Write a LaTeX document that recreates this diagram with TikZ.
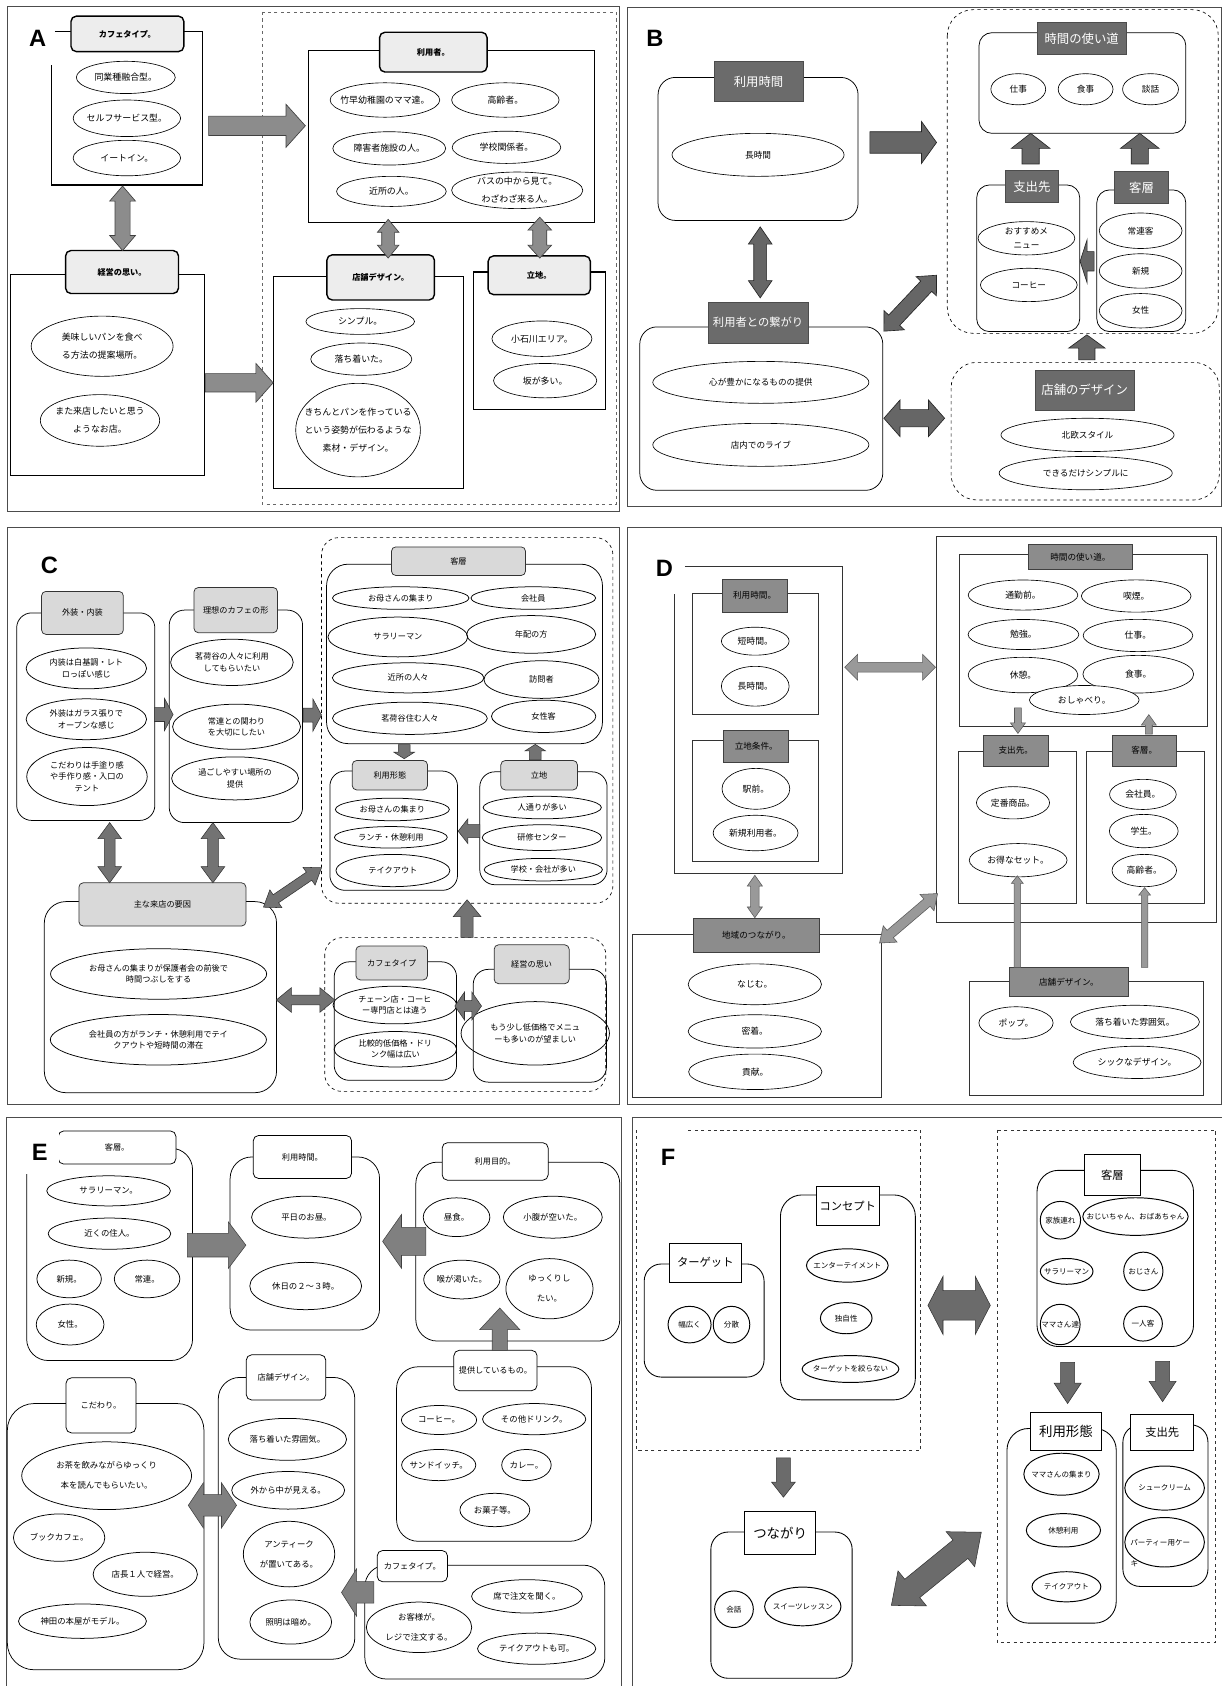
\documentclass[tikz,border=0pt]{standalone}
\usepackage{fontspec}
\setmainfont{Noto Sans CJK JP}
\newfontfamily\lat{Liberation Sans}
\usetikzlibrary{calc,shapes.geometric}
\newcommand\tb[7]{\node[#1, minimum width={(#5)-(#3)}, minimum height={(#6)-(#4)}] (#2) at ({((#3)+(#5))/2},{((#4)+(#6))/2}) {#7};}
\newcommand\ov[6]{\node[ovl, minimum width=#4pt, minimum height=#5pt] (#1) at (#2,#3) {};\node[ovt] (#1t) at (#1.center) {#6};}
\newcommand\sar[6]{\coordinate (bs) at #2; \coordinate (be) at #3;
 \coordinate (bm) at ($(be)!#6pt!(bs)$);
 \draw[#1] ($(bs)!#4pt!90:(be)$) -- ($(bm)!#4pt!-90:(bs)$) -- ($(bm)!#5pt!-90:(bs)$) -- (be) -- ($(bm)!#5pt!90:(bs)$) -- ($(bm)!#4pt!90:(bs)$) -- ($(bs)!#4pt!-90:(be)$) -- cycle;}
\newcommand\dar[6]{\coordinate (bs) at #2; \coordinate (be) at #3;
 \coordinate (bm) at ($(be)!#6pt!(bs)$); \coordinate (bn) at ($(bs)!#6pt!(be)$);
 \draw[#1] (bs) -- ($(bn)!#5pt!90:(be)$) -- ($(bn)!#4pt!90:(be)$) -- ($(bm)!#4pt!-90:(bs)$) -- ($(bm)!#5pt!-90:(bs)$) -- (be) -- ($(bm)!#5pt!90:(bs)$) -- ($(bm)!#4pt!90:(bs)$) -- ($(bn)!#4pt!-90:(be)$) -- ($(bn)!#5pt!-90:(be)$) -- cycle;}
\begin{document}
\begin{tikzpicture}[x=1pt,y=-1pt,
 frm/.style={draw=black!70, line width=1pt},
 lab/.style={font=\lat\bfseries\fontsize{22}{22}\selectfont, inner sep=1pt}]
\useasboundingbox (0,0) rectangle (1137,1568);
\fill[white] (0,0) rectangle (1137,1568);

%================ A ================
\begin{scope}[
 ovl/.style={draw, ellipse, inner sep=0pt, line width=.6pt},
 ovt/.style={font=\fontsize{8.3}{16.8}\selectfont, align=center, inner sep=0pt},
 ttl/.style={draw, line width=1.3pt, rounded corners=5pt, fill=black!7, font=\bfseries\fontsize{7.6}{9}\selectfont, inner sep=1pt},
 cnt/.style={draw, line width=1.1pt},
 arw/.style={fill=black!45, draw=black!75, line width=.6pt}]
\draw[frm] (7,6) rectangle (576,476);
\draw[dashed, black!60, line width=.6pt] (244,11) rectangle (573,469);
\draw[cnt] (51,29) -- (188,29) -- (188,172) -- (48,172) -- (48,60);
\draw[cnt] (10,255) rectangle (190,442);
\draw[cnt] (287,47) rectangle (553,207);
\draw[cnt] (254,257) rectangle (431,454);
\draw[cnt] (440,253) rectangle (563,381);
\node[lab] (labA) at (35,36) {A};
\tb{ttl}{aCafe}{66}{15}{171}{48}{カフェタイプ。}
\tb{ttl}{aKei}{61}{233}{166}{273}{経営の思い。}
\tb{ttl}{aUser}{353}{30}{453}{67}{利用者。}
\tb{ttl}{aDes}{304}{237}{404}{279}{店舗デザイン。}
\tb{ttl}{aLoc}{454}{238}{549}{274}{立地。}
\ov{aE1}{117}{72}{92}{30}{同業種融合型。}
\ov{aE2}{118}{110}{100}{34}{セルフサービス型。}
\ov{aE3}{118}{147}{100}{33}{イートイン。}
\ov{aE4}{95}{322}{132}{56}{美味しいパンを食べ\\る方法の提案場所。}
\ov{aE5}{93}{391}{111}{48}{また来店したいと思う\\ようなお店。}
\ov{aU1}{358}{93}{102}{32}{竹早幼稚園のママ達。}
\ov{aU2}{470}{93}{100}{32}{高齢者。}
\ov{aU3}{362}{138}{105}{31}{障害者施設の人。}
\ov{aU4}{471}{137}{101}{30}{学校関係者。}
\ov{aU5}{364}{178}{102}{28}{近所の人。}
\ov{aU6}{481}{177}{122}{34}{バスの中から見て。\\わざわざ来る人。}
\ov{aD1}{335}{299}{101}{24}{シンプル。}
\ov{aD2}{336}{334}{94}{30}{落ち着いた。}
\ov{aD3}{333}{400}{116}{87}{きちんとパンを作っている\\という姿勢が伝わるような\\素材・デザイン。}
\ov{aL1}{504}{315}{93}{33}{小石川エリア。}
\ov{aL2}{507}{354}{96}{32}{坂が多い。}
\dar{arw}{(114,173)}{(114,233)}{7}{12}{14}
\sar{arw}{(194,117)}{(284,117)}{9}{20}{18}
\sar{arw}{(191,356)}{(254,356)}{8.5}{18}{16}
\dar{arw}{(361,204)}{(361,240)}{6}{10}{12}
\dar{arw}{(502,202)}{(502,240)}{6.5}{11}{12}
\end{scope}

%================ B ================
\begin{scope}[
 ovl/.style={draw, ellipse, inner sep=0pt, line width=.6pt},
 ovt/.style={font=\fontsize{8}{13}\selectfont, align=center, inner sep=0pt},
 ttl/.style={draw=black!70, fill=black!58, text=white, font=\fontsize{11.5}{13}\selectfont, inner sep=1pt},
 cnt/.style={draw, line width=.7pt, rounded corners=16pt},
 dsh/.style={draw, dashed, line width=.6pt, rounded corners=24pt},
 arw/.style={fill=black!60, draw=black!85, line width=.6pt}]
\draw[frm] (584,7) rectangle (1136,471);
\node[lab] (labB) at (609,36) {B};
\draw[dsh] (881,9) rectangle (1133,310);
\draw[dsh] (884.5,337) rectangle (1134,465);
\draw[cnt] (612,72) rectangle (798,205);
\draw[cnt] (595,304) rectangle (821,456);
\draw[cnt, rounded corners=12pt] (910.5,30.4) rectangle (1102.8,124);
\draw[cnt, rounded corners=12pt] (908.3,172) rectangle (1004.2,308.4);
\draw[cnt, rounded corners=12pt] (1020,176.6) rectangle (1102.8,308.4);
\tb{ttl}{bTime}{664}{57}{747}{94.5}{利用時間}
\tb{ttl,font=\fontsize{10.5}{12}\selectfont}{bConn}{658.5}{281}{751.5}{319}{利用者との繋がり}
\tb{ttl}{bUse}{965}{21}{1047}{50.5}{時間の使い道}
\tb{ttl}{bSpend}{935.3}{158.7}{983.9}{188.4}{支出先}
\tb{ttl}{bCust}{1036.4}{159.6}{1086.8}{189}{客層}
\tb{ttl}{bDes}{962.6}{344}{1054.9}{381.2}{店舗のデザイン}
\ov{bE1}{705}{144}{160}{40}{長時間}
\ov{bE2}{707.6}{355.6}{201}{39}{心が豊かになるものの提供}
\ov{bE3}{707.6}{413.7}{201}{40}{店内でのライブ}
\ov{bE4}{947}{83}{51}{29}{仕事}
\ov{bE5}{1009.6}{83}{51}{29}{食事}
\ov{bE6}{1070}{83}{52}{29}{談話}
\ov{bE7}{954.6}{221.6}{90}{31}{おすすめメ\\ニュー}
\ov{bE8}{956.8}{265}{90}{31}{コーヒー}
\ov{bE9}{1060.8}{214.6}{77}{33}{常連客}
\ov{bE10}{1060.8}{252}{77}{32}{新規}
\ov{bE11}{1060.8}{289}{77}{32}{女性}
\ov{bE12}{1011.4}{404.5}{161}{31}{北欧スタイル}
\ov{bE13}{1009.7}{440}{161}{31}{できるだけシンプルに}
\dar{arw}{(707,211)}{(707,277)}{6}{11}{16}
\sar{arw}{(809,132.5)}{(871,132.5)}{10}{19.5}{14}
\dar{arw}{(822,308)}{(871,256)}{7}{13}{14}
\dar{arw}{(822,389)}{(878.5,389)}{8}{17}{15}
\sar{arw}{(958.5,152.5)}{(958.5,124)}{8}{18}{14}
\sar{arw}{(1060,152.5)}{(1060,124)}{8}{18}{14}
\sar{arw}{(1017.5,243)}{(1004.5,243)}{9}{20}{6.5}
\sar{arw}{(1010.8,334.7)}{(1010.8,311.4)}{7.5}{17}{12.4}
\end{scope}

%================ C ================
\begin{scope}[
 ovl/.style={draw, ellipse, inner sep=0pt, line width=.7pt},
 ovt/.style={font=\fontsize{7.6}{10.5}\selectfont, align=center, inner sep=0pt},
 ttl/.style={draw=black!80, fill=black!15, rounded corners=4pt, line width=.7pt, font=\fontsize{7.6}{9}\selectfont, inner sep=1pt},
 cnt/.style={draw, line width=.7pt, rounded corners=14pt},
 dsh/.style={draw, dashed, line width=.6pt, rounded corners=16pt},
 arw/.style={fill=black!55, draw=black!80, line width=.5pt}]
\draw[frm] (7,491) rectangle (576,1027);
\draw[dsh] (299,500) rectangle (570,840);
\draw[dsh] (302,872) rectangle (563.4,1015);
\draw[cnt] (15.5,570) rectangle (144,763);
\draw[cnt] (157.4,567.4) rectangle (281.4,765);
\draw[cnt, rounded corners=20pt] (41.2,838.5) rectangle (257.2,1016.2);
\draw[cnt, rounded corners=20pt] (303.7,524.7) rectangle (560.3,691.6);
\draw[cnt] (306.8,717.1) rectangle (425.5,828);
\draw[cnt] (446.2,717.8) rectangle (564.6,822.8);
\draw[cnt] (310.8,894.5) rectangle (424.6,1004.7);
\draw[cnt] (440.1,901.5) rectangle (564,1006.4);
\tb{ttl}{cOut}{38.7}{550}{114.7}{590}{外装・内装}
\tb{ttl}{cIdeal}{180.4}{546.4}{258.1}{588.4}{理想のカフェの形}
\tb{ttl}{cMain}{73.4}{821}{228.7}{861.2}{主な来店の要因}
\tb{ttl}{cCust}{364.1}{508.6}{488.7}{535.2}{客層}
\tb{ttl}{cUse}{327.6}{707.3}{397.6}{734.6}{利用形態}
\tb{ttl}{cLoc}{465.8}{707.3}{537}{734.6}{立地}
\tb{ttl}{cType}{331}{879.8}{397.6}{911.3}{カフェタイプ}
\tb{ttl}{cKei}{459.6}{878.7}{529.3}{914.8}{経営の思い}
\node[lab, fill=white, minimum width=32pt, minimum height=46pt] (labC) at (46,526) {C};
\ov{cO1}{80.3}{621.6}{112}{38}{内装は白基調・レト\\ロっぽい感じ}
\ov{cO2}{80.3}{668.9}{112}{38}{外装はガラス張りで\\オープンな感じ}
\ov{cO3}{80.9}{722.2}{112}{54}{こだわりは手塗り感\\や手作り感・入口の\\テント}
\ov{cI1}{215.7}{616}{114}{43}{茗荷谷の人々に利用\\してもらいたい}
\ov{cI2}{220}{675.9}{119}{42}{常連との関わり\\を大切にしたい}
\ov{cI3}{218.6}{723.9}{118}{40}{過ごしやすい場所の\\提供}
\ov{cM1}{147.5}{905.8}{201}{47}{お母さんの集まりが保護者会の前後で\\時間つぶしをする}
\ov{cM2}{147.3}{967}{201}{47}{会社員の方がランチ・休憩利用でテイ\\クアウトや短時間の滞在}
\ov{cC1}{372.7}{556.2}{127}{21}{お母さんの集まり}
\ov{cC2}{496}{556.2}{116}{21}{会社員}
\ov{cC3}{370}{592.4}{130}{37}{サラリーマン}
\ov{cC4}{494}{590}{120}{35}{年配の方}
\ov{cC5}{379.6}{630.4}{141}{28}{近所の人々}
\ov{cC6}{503.6}{632}{107}{35}{訪問者}
\ov{cC7}{381.2}{668}{144}{30}{茗荷谷住む人々}
\ov{cC8}{505.6}{666.2}{97}{30}{女性客}
\ov{cU1}{364.9}{752.8}{106}{21}{お母さんの集まり}
\ov{cU2}{363.5}{778.7}{105}{20}{ランチ・休憩利用}
\ov{cU3}{365.4}{809.6}{106}{30}{テイクアウト}
\ov{cL1}{504.3}{751}{110}{21}{人通りが多い}
\ov{cL2}{504}{779}{111}{24}{研修センター}
\ov{cL3}{505.3}{808.8}{110}{21}{学校・会社が多い}
\ov{cT1}{367.2}{934.7}{115}{35}{チェーン店・コーヒ\\ー専門店とは違う}
\ov{cT2}{367.7}{975.8}{114}{33}{比較的低価格・ドリ\\ンク幅は広い}
\ov{cK1}{497.8}{961}{138}{59}{もう少し低価格でメニュ\\ーも多いのが望ましい}
\sar{arw}{(143.5,664.5)}{(161,664.5)}{6.5}{15}{8}
\sar{arw}{(282,665)}{(299,665)}{6.5}{15}{8}
\dar{arw}{(102,765)}{(102,821)}{5}{11}{15}
\dar{arw}{(198,765)}{(198,821)}{5}{11}{15}
\dar{arw}{(245,843.7)}{(299,807)}{4.5}{10}{14}
\dar{arw}{(257,930)}{(311.4,930)}{4.5}{11.5}{14}
\sar{arw}{(375.9,692.6)}{(375.9,705.6)}{5.5}{9.5}{6}
\sar{arw}{(497.8,706.6)}{(497.8,692.3)}{5.5}{9.5}{6}
\sar{arw}{(446.2,773)}{(426.1,773)}{6}{11.5}{9}
\sar{arw}{(434.4,871.7)}{(434.4,836.8)}{5.7}{12.9}{15.7}
\dar{arw}{(423,935.6)}{(447.8,935.6)}{5}{13}{9}
\end{scope}

%================ D ================
\begin{scope}[
 ovl/.style={draw, ellipse, inner sep=0pt, line width=.6pt, fill=white},
 ovt/.style={font=\fontsize{8.2}{10}\selectfont, align=center, inner sep=0pt},
 ttl/.style={draw=black!75, fill=black!45, line width=.8pt, font=\fontsize{8}{10}\selectfont, inner sep=1pt},
 cnt/.style={draw=black!80, line width=.7pt},
 arw/.style={fill=black!40, draw=black!65, line width=.5pt}]
\draw[frm] (584,491) rectangle (1136,1027);
\node[lab] (labD) at (618,529) {D};
\draw[cnt] (637,527) -- (783,527) -- (783,812) -- (627.6,812) -- (627.6,552);
\draw[cnt] (644,551.7) rectangle (761.5,664.3);
\draw[cnt] (643.7,688.8) rectangle (760.8,800.7);
\draw[cnt] (588,869) rectangle (819.7,1020.4);
\draw[cnt] (871,499) rectangle (1131,858);
\draw[cnt] (891.9,515.6) rectangle (1122.4,675.1);
\draw[cnt] (891,698.6) rectangle (1001,840.2);
\draw[cnt] (1010.2,698.6) rectangle (1120.3,840.2);
\draw[cnt] (901.8,913) rectangle (1118.7,1018.6);
\tb{ttl}{dTime}{671.6}{538.7}{732}{569.2}{利用時間。}
\tb{ttl}{dLoc}{673.1}{679.3}{733.6}{709.1}{立地条件。}
\tb{ttl}{dReg}{644.6}{854.2}{762.4}{885.7}{地域のつながり。}
\tb{ttl}{dUse}{956}{506.2}{1053.6}{530}{時間の使い道。}
\tb{ttl}{dSpend}{914.8}{683.5}{974.6}{712.6}{支出先。}
\tb{ttl}{dCust}{1034.4}{683.5}{1093.9}{712.6}{客層。}
\tb{ttl}{dDes}{938.4}{899.7}{1049.9}{927}{店舗デザイン。}
\ov{dT1}{702.4}{596.3}{63}{26}{短時間。}
\ov{dT2}{702.4}{638.2}{63}{37}{長時間。}
\ov{dL1}{703}{733.6}{63}{38}{駅前。}
\ov{dL2}{702.7}{774.7}{79}{33}{新規利用者。}
\ov{dR1}{702}{915.4}{124}{38}{なじむ。}
\ov{dR2}{702}{959.2}{124}{31}{密着。}
\ov{dR3}{702.4}{996.8}{124}{33}{貢献。}
\ov{dU1}{951.4}{553.4}{102}{28}{通勤前。}
\ov{dU2}{1056.7}{554.3}{102}{30}{喫煙。}
\ov{dU3}{951.8}{590.1}{103}{28}{勉強。}
\ov{dU4}{1058.3}{591}{102}{30}{仕事。}
\ov{dU5}{951.4}{627.8}{102}{33}{休憩。}
\ov{dU6}{1058.6}{627}{103}{35}{食事。}
\ov{dU7}{1008.4}{651}{102}{27}{おしゃべり。}
\ov{dS1}{942.1}{746.6}{68}{30}{定番商品。}
\ov{dS2}{946.9}{800}{91}{31}{お得なセット。}
\ov{dC1}{1062.9}{738.8}{62}{28}{会社員。}
\ov{dC2}{1063.7}{772.9}{64}{31}{学生。}
\ov{dC3}{1064.2}{809.6}{60}{30}{高齢者。}
\ov{dD1}{944.9}{951.3}{69}{30}{ポップ。}
\ov{dD2}{1055.5}{950.4}{120}{31}{落ち着いた雰囲気。}
\ov{dD3}{1057.5}{988}{119}{30}{シックなデザイン。}
\dar{arw}{(785.6,620.5)}{(870,620.5)}{4.5}{12}{12}
\dar{arw}{(702,814)}{(702,853.5)}{4}{7}{10}
\dar{arw}{(818,877)}{(872,831)}{4.5}{10}{13}
\sar{arw}{(946.7,658.3)}{(946.7,682.1)}{3.2}{7}{9.8}
\sar{arw}{(1068.4,682.8)}{(1068.4,664.6)}{3.2}{7}{9.8}
\sar{arw}{(946.1,899.7)}{(946.1,814.5)}{3}{5.5}{7}
\sar{arw}{(1064.5,899.7)}{(1064.5,825.5)}{3}{5.5}{7}
\end{scope}

%================ E ================
\begin{scope}[
 ovl/.style={draw, ellipse, inner sep=0pt, line width=.7pt},
 ovt/.style={font=\fontsize{7.8}{18.5}\selectfont, align=center, inner sep=0pt},
 ttl/.style={draw, fill=white, rounded corners=5pt, line width=.7pt, font=\fontsize{7.6}{9}\selectfont, inner sep=1pt},
 cnt/.style={draw, line width=.7pt, rounded corners=20pt},
 arw/.style={fill=black!50, draw=black!75, line width=.5pt}]
\draw[frm] (6,1575) -- (6,1039.5) -- (578,1039.5) -- (578,1575);
\draw[cnt] (24.8,1067.9) rectangle (179.1,1265.3);
\draw[cnt] (214,1076) rectangle (353,1237);
\draw[cnt] (386.7,1080.8) rectangle (576.4,1247.2);
\draw[cnt] (368.8,1271.1) rectangle (550.1,1433.4);
\draw[cnt] (339.3,1455.6) rectangle (562.5,1561.5);
\draw[cnt] (203,1281) rectangle (330,1543);
\draw[cnt, rounded corners=25pt] (6.8,1305.3) rectangle (189.7,1552.9);
\tb{ttl}{eCust}{54.2}{1051.8}{163.6}{1082.6}{客層。}
\tb{ttl}{eTime}{235.5}{1056}{327}{1096}{利用時間。}
\tb{ttl}{ePurp}{411.2}{1062.7}{509.8}{1097.6}{利用目的。}
\tb{ttl}{eOffer}{422.1}{1255.8}{499.5}{1293.3}{提供しているもの。}
\tb{ttl}{eType}{350.8}{1442}{416.2}{1471}{カフェタイプ。}
\tb{ttl}{eDes}{229}{1260}{303}{1302}{店舗デザイン。}
\tb{ttl}{eKoda}{61.4}{1281.4}{126.4}{1332.6}{こだわり。}
\node[lab, fill=white, minimum width=36pt, minimum height=40pt] (labE) at (37,1072) {E};
\ov{eC1}{101}{1107.5}{115}{28}{サラリーマン。}
\ov{eC2}{101.8}{1147.3}{114}{29}{近くの住人。}
\ov{eC3}{64.3}{1189.4}{60}{35}{新規。}
\ov{eC4}{136.8}{1189.4}{61}{35}{常連。}
\ov{eC5}{65.2}{1231.8}{63}{38}{女性。}
\ov{eT1}{285}{1132}{102}{39}{平日のお昼。}
\ov{eT2}{284.3}{1196}{104}{44}{休日の２～３時。}
\ov{eP1}{424.6}{1132}{62}{36}{昼食。}
\ov{eP2}{514.1}{1132}{92}{39}{小腹が空いた。}
\ov{eP3}{429.5}{1190}{71}{36}{喉が渇いた。}
\ov{eP4}{511}{1198.5}{81}{56}{ゆっくりし\\たい。}
\ov{eO1}{408.3}{1320.6}{70}{27}{コーヒー。}
\ov{eO2}{496.8}{1319.8}{96}{29}{その他ドリンク。}
\ov{eO3}{408}{1362.5}{69}{29}{サンドイッチ。}
\ov{eO4}{489.6}{1362.5}{46}{29}{カレー。}
\ov{eO5}{460.2}{1404.3}{65}{31}{お菓子等。}
\ov{eY1}{490.1}{1484.6}{103}{31}{席で注文を聞く。}
\ov{eY2}{389.7}{1513.4}{98}{47}{お客様が。\\レジで注文する。}
\ov{eY3}{499.1}{1533.3}{110}{29}{テイクアウトも可。}
\ov{eD1}{267.3}{1338.6}{110}{39}{落ち着いた雰囲気。}
\ov{eD2}{268}{1386}{105}{35}{外から中が見える。}
\ov{eD3}{268.8}{1445.3}{85}{61}{アンティーク\\が置いてある。}
\ov{eD4}{270.4}{1508.5}{76}{41}{照明は暗め。}
\ov{eK1}{99.2}{1372.4}{158}{63}{お茶を飲みながらゆっくり\\本を読んでもらいたい。}
\ov{eK2}{55}{1430}{85}{44}{ブックカフェ。}
\ov{eK3}{135.1}{1464.1}{97}{41}{店長１人で経営。}
\ov{eK4}{76.7}{1507.7}{119}{32}{神田の本屋がモデル。}
\sar{arw}{(174.2,1158)}{(228.7,1158)}{11}{21.7}{16.4}
\sar{arw}{(396,1154.5)}{(355.8,1154.5)}{13}{25}{17.6}
\sar{arw}{(464.8,1255.8)}{(464.8,1216.5)}{7}{18.6}{20}
\sar{arw}{(347.7,1481)}{(317.6,1481)}{10}{22}{14}
\dar{arw}{(175.1,1400)}{(220,1400)}{10}{21}{14}
\end{scope}

%================ F ================
\begin{scope}[
 ovl/.style={draw, ellipse, inner sep=0pt, line width=.9pt},
 ovt/.style={font=\fontsize{7}{18}\selectfont, align=center, inner sep=0pt},
 ttl/.style={draw, fill=white, line width=.8pt, font=\fontsize{10.5}{12}\selectfont, inner sep=1pt},
 cnt/.style={draw, line width=.8pt, rounded corners=16pt},
 dsh/.style={draw=black!80, dashed, line width=.6pt},
 arw/.style={fill=black!58, draw=black!80, line width=.5pt}]
\draw[frm] (588,1575) -- (588,1039.5) -- (1136,1039.5);
\draw[dsh] (640,1051) -- (856.3,1051) -- (856.3,1349) -- (592,1349) -- (592,1051);
\draw[dsh] (927.2,1050.8) rectangle (1130.5,1527.3);
\node[lab] (labF) at (621.4,1076.4) {F};
\draw[cnt] (599.1,1175.5) rectangle (710.6,1280.7);
\draw[cnt, rounded corners=20pt] (725.8,1111.3) rectangle (851.3,1301.9);
\draw[cnt] (661.1,1424.8) rectangle (792.5,1560.8);
\draw[cnt, rounded corners=20pt] (964.4,1088.4) rectangle (1110,1252.3);
\draw[cnt, rounded corners=20pt] (936.5,1328.5) rectangle (1038.1,1509.5);
\draw[cnt] (1044.3,1325.1) rectangle (1123.4,1475.4);
\tb{ttl}{fTarget}{622.3}{1156}{689.6}{1192.6}{ターゲット}
\tb{ttl}{fConcept}{759.3}{1103}{817.6}{1139.6}{コンセプト}
\tb{ttl,font=\fontsize{12.5}{14}\selectfont}{fConn}{692.7}{1406}{758.4}{1445.3}{つながり}
\tb{ttl}{fCust}{1008.7}{1073.7}{1060.5}{1111.3}{客層}
\tb{ttl,font=\fontsize{12.5}{14}\selectfont}{fUse}{958.5}{1313.8}{1024.2}{1349}{利用形態}
\tb{ttl}{fSpend}{1051.5}{1315.5}{1110.3}{1349}{支出先}
\ov{fT1}{641.3}{1231.9}{40}{34}{幅広く}
\ov{fT2}{680.3}{1231.9}{34}{34}{分散}
\ov{fK1}{788}{1176.9}{76}{31}{エンターテイメント}
\ov{fK2}{787}{1225.9}{48}{29}{独自性}
\ov{fK3}{791}{1273.2}{90}{25}{ターゲットを絞らない}
\ov{fN1}{682.6}{1496.6}{36}{34}{会話}
\ov{fN2}{746.6}{1494}{71}{36}{スイーツレッスン}
\ov{fC1}{986.2}{1134.8}{37.5}{35}{家族連れ}
\ov{fC2}{1056}{1131.4}{98}{35}{おじいちゃん、おばあちゃん}
\ov{fC3}{992}{1182.4}{49}{24}{サラリーマン}
\ov{fC4}{1063.3}{1182.3}{36.5}{35.6}{おじさん}
\ov{fC5}{986}{1231.8}{37}{37.6}{ママさん達}
\ov{fC6}{1063}{1231}{36}{32.4}{一人客}
\ov{fU1}{987.2}{1371}{70}{39}{ママさんの集まり}
\ov{fU2}{989}{1423.2}{69}{31}{休憩利用}
\ov{fU3}{991.8}{1475.7}{64}{28}{テイクアウト}
\ov{fS1}{1083.1}{1383.9}{74}{41}{シュークリーム}
\ov{fS2}{1083.1}{1434.3}{74}{46}{}
\node[ovt] (fS2a) at (1079,1435) {パーティー用ケー};
\node[ovt] (fS2b) at (1055,1454) {キ};
\sar{arw}{(728.6,1355.8)}{(728.6,1392.4)}{6.5}{11}{14}
\dar{arw}{(829,1493)}{(912.6,1425)}{11}{21}{25}
\dar{arw}{(863,1214)}{(921,1214)}{13.7}{27}{14}
\sar{arw}{(992.9,1267)}{(992.9,1305.3)}{6.5}{12.6}{19}
\sar{arw}{(1081.2,1266)}{(1081.2,1303.6)}{6.5}{12.6}{19}
\end{scope}
\end{tikzpicture}
\end{document}
